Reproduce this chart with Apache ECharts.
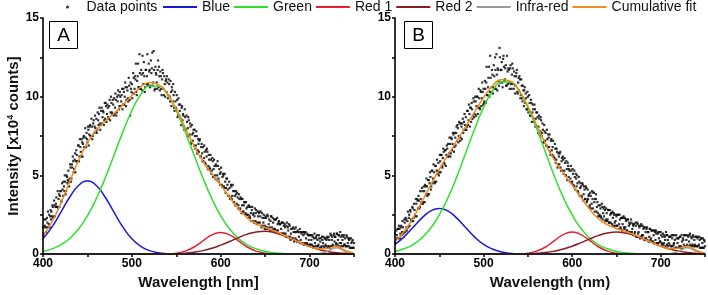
<!DOCTYPE html>
<html><head><meta charset="utf-8">
<script src="https://cdn.jsdelivr.net/npm/echarts@6/dist/echarts.min.js"></script>
<style>html,body{margin:0;padding:0;background:#fff}#c{width:708px;height:295px}</style>
</head><body><div id="c"></div>
<script>
// Wavelength grid for fitted components (nm)
const WL = [400,410,420,430,440,450,460,470,480,490,500,510,520,530,540,550,560,570,580,590,600,610,620,630,640,650,660,670,680,690,700,710,720,730,740,750];
// Measured data points: two interleaved read-outs, one value per nm each
const DATA_START = 400, DATA_START_2 = 400.5, DATA_STEP = 1;
const dataA = [
1.7,1.3,1.8,2.2,1.7,2.0,1.7,2.5,2.4,2.2,
2.4,3.0,2.4,3.1,3.0,3.6,3.0,2.9,3.8,3.7,
4.0,3.4,4.1,4.6,4.0,4.6,4.0,4.9,4.7,4.6,
4.8,5.5,4.8,5.5,5.9,5.4,6.4,5.9,6.3,5.9,
6.9,6.2,6.8,6.2,7.1,7.0,7.5,6.8,7.4,7.7,
7.1,7.9,7.6,8.2,7.5,8.1,7.5,8.5,8.1,8.0,
8.6,7.9,8.5,8.9,8.3,8.2,9.3,8.7,9.0,8.5,
8.6,9.4,8.9,9.3,8.6,9.8,9.0,9.6,8.9,9.5,
9.9,9.3,9.8,9.0,9.7,10.1,9.4,10.0,9.7,10.5,
9.5,10.3,10.0,10.6,9.8,10.4,9.7,10.7,8.8,10.5,
10.8,10.2,11.2,10.5,11.1,10.3,11.0,12.1,10.6,11.5,
10.5,11.4,12.6,10.8,11.3,10.6,11.7,11.3,10.8,12.1,
11.7,10.7,11.5,12.8,10.9,11.7,10.5,11.5,10.9,11.7,
10.6,11.3,11.6,10.5,11.1,11.5,10.1,10.8,11.0,10.3,
10.9,10.1,10.8,9.7,10.3,10.6,9.7,10.1,9.1,9.7,
9.2,9.8,8.8,9.5,9.1,8.6,9.3,8.5,8.8,7.9,
8.7,7.9,8.4,8.0,8.5,7.6,8.1,7.1,7.6,7.7,
6.9,7.5,6.9,7.5,6.6,7.0,7.2,6.2,6.8,6.4,
6.8,6.1,6.5,5.7,6.2,6.5,5.6,6.0,5.4,6.0,
5.3,5.9,5.4,5.6,4.8,5.6,5.0,5.6,4.6,5.1,
5.2,4.4,4.9,5.0,4.2,4.6,4.2,4.8,4.1,3.7,
4.2,3.6,4.3,3.7,4.0,3.3,3.7,4.0,3.2,3.6,
3.1,3.5,2.9,3.5,3.1,2.7,3.1,3.3,2.6,2.9,
3.0,2.5,3.0,2.3,2.6,2.8,2.1,2.6,2.4,2.1,
2.8,2.0,2.4,2.6,2.0,2.7,1.7,2.3,2.0,2.3,
1.8,2.3,1.7,2.4,1.9,1.7,2.1,2.4,1.5,2.0,
2.2,1.6,2.2,1.5,1.9,2.0,1.3,1.9,1.6,2.0,
1.3,1.8,1.9,1.3,1.8,1.1,1.5,1.9,1.1,1.3,
1.6,1.0,1.4,1.6,1.0,1.4,0.8,1.4,1.1,1.6,
0.9,1.3,0.7,1.2,1.4,0.7,1.0,0.7,1.2,0.9,
1.2,0.6,0.9,1.2,0.5,1.0,0.7,1.1,0.5,0.9,
0.6,1.0,0.8,0.4,1.1,0.7,0.5,1.0,0.6,0.9,
1.0,0.5,0.9,0.4,1.2,0.9,0.6,1.2,0.8,1.1,
0.7,1.3,0.9,1.2,0.7,1.1,0.5,0.9,1.1,0.6,
1.0,0.5,1.1,0.7,0.5,1.0,0.4,0.7,0.8,0.4,0.7];
const dataA2 = [
1.2,2.2,1.7,1.4,2.3,2.7,1.9,1.7,2.8,2.7,
3.1,2.3,3.4,2.4,3.2,3.0,4.0,3.5,3.0,4.0,
3.3,4.5,3.7,4.3,5.0,3.8,5.0,4.5,5.3,4.3,
5.7,4.6,5.7,6.2,5.2,6.0,5.2,6.6,5.9,6.9,
5.9,7.3,6.5,7.3,6.2,7.4,6.8,8.0,6.8,7.3,
8.1,6.9,8.1,7.5,8.6,7.3,8.3,7.7,8.8,7.8,
7.7,9.0,8.2,9.3,7.9,9.1,8.3,9.1,8.2,9.6,
9.6,8.4,9.5,8.7,9.4,8.5,10.0,9.0,9.8,8.8,
8.9,10.2,8.8,10.0,10.4,9.2,10.3,9.4,10.1,9.2,
10.5,9.5,10.9,9.4,10.6,9.9,11.2,9.8,10.9,10.3,
9.9,11.5,10.2,11.3,12.1,10.1,11.3,10.6,12.7,10.5,
11.7,10.4,11.5,12.2,10.3,11.7,10.8,12.7,10.7,11.6,
10.6,12.3,11.8,10.7,12.9,10.4,11.9,11.4,10.5,12.3,
11.9,10.4,11.3,10.1,11.7,10.5,11.3,10.0,11.1,11.3,
9.9,11.1,10.0,11.0,9.4,10.4,10.8,9.3,10.3,9.3,
10.1,8.7,9.9,8.8,9.5,8.2,9.4,8.9,8.1,9.2,
7.9,8.8,7.5,8.7,7.5,8.3,7.0,8.2,7.2,7.9,
7.9,6.7,7.8,6.4,7.3,6.5,7.3,6.2,7.0,5.9,
5.9,6.9,5.8,6.6,6.7,5.4,6.3,5.5,6.3,5.1,
6.1,4.9,6.0,5.0,5.7,4.7,5.9,4.8,5.4,4.4,
5.5,4.3,5.1,4.3,5.1,3.9,4.8,4.4,3.7,4.6,
3.5,4.4,3.5,4.4,3.3,4.0,3.1,3.8,3.9,2.9,
3.8,2.8,3.6,2.6,3.5,2.7,3.3,2.5,3.3,2.5,
2.3,3.1,2.4,3.0,2.1,3.0,2.5,2.0,2.9,2.6,
1.9,2.7,2.0,2.7,2.4,1.8,2.6,1.8,2.5,1.6,
2.4,1.6,2.5,1.6,2.2,1.5,2.4,1.7,2.3,1.6,
1.5,2.2,1.4,2.3,1.5,2.1,1.9,1.3,2.0,1.3,
2.0,1.3,1.7,1.1,2.0,1.7,1.1,1.8,0.9,1.6,
1.0,1.7,0.8,1.4,1.7,0.9,1.5,0.8,1.4,0.7,
1.4,0.7,1.4,0.6,1.3,1.4,0.6,1.3,0.6,1.2,
0.6,1.2,0.6,1.1,0.4,1.3,0.5,1.0,1.2,0.5,
1.2,0.4,1.0,0.5,0.9,1.1,0.4,1.0,0.5,1.1,
0.4,1.1,0.5,1.3,0.5,1.1,0.5,1.3,1.1,0.6,
1.3,0.6,1.2,0.5,1.4,0.7,1.2,0.5,1.2,0.6,
0.5,1.2,0.5,1.0,0.9,0.4,1.0,0.4,0.9,0.4];
const dataB = [
1.3,0.9,1.2,1.6,1.0,1.6,1.3,1.8,1.4,1.7,
1.4,2.0,2.3,1.7,2.1,1.7,2.5,2.8,2.2,2.1,
2.9,2.3,2.8,2.4,3.2,3.5,2.9,3.4,3.0,3.5,
3.3,4.0,3.3,4.0,4.4,3.8,4.3,3.8,4.7,4.5,
4.9,4.3,5.3,4.8,5.2,4.5,5.6,5.3,5.1,5.8,
5.2,5.9,6.3,5.6,6.1,6.5,5.7,6.6,6.3,6.7,
7.0,6.4,7.0,6.4,7.3,7.0,7.6,6.8,7.4,7.7,
7.2,8.0,7.5,8.3,7.4,8.1,8.3,7.7,8.4,8.2,
8.7,8.1,9.1,8.5,8.9,9.3,8.4,9.2,8.8,9.7,
8.9,9.7,9.4,10.0,9.3,9.9,9.2,10.3,9.9,10.3,
10.5,9.7,10.5,10.9,10.1,10.6,11.9,10.3,11.2,10.6,
11.4,10.6,11.3,12.5,10.5,11.4,11.8,11.0,13.1,10.9,
11.7,10.9,12.4,11.9,11.1,12.0,10.7,11.6,11.8,10.9,
11.8,10.8,11.4,11.8,10.5,11.3,10.7,11.5,10.3,10.9,
10.4,11.1,10.1,10.7,9.7,10.4,10.4,9.6,9.9,9.2,
10.0,9.2,9.6,8.8,9.6,9.0,9.2,8.4,9.2,8.6,
8.1,8.7,8.1,8.6,7.8,8.5,7.7,7.9,7.1,7.8,
7.7,6.9,7.3,7.6,6.8,6.5,7.2,6.6,6.8,6.2,
6.1,6.7,6.0,6.5,5.7,6.2,6.4,5.5,5.9,5.3,
6.0,5.3,5.8,5.0,5.4,5.8,4.9,5.3,4.8,5.3,
4.6,5.1,4.3,4.9,5.1,4.3,4.5,3.9,4.6,4.2,
4.3,3.6,4.4,3.8,4.1,3.5,4.2,3.4,3.5,3.8,
3.1,3.7,3.2,3.5,3.9,3.3,3.5,3.8,3.0,2.6,
3.1,2.5,2.9,2.3,3.0,2.6,2.4,2.8,2.2,2.6,
2.2,2.8,2.0,2.5,2.6,1.9,2.3,2.6,2.0,2.1,
2.4,1.8,2.5,1.9,2.2,1.6,2.3,1.9,2.4,1.6,
1.7,2.1,1.5,2.2,1.8,1.9,1.3,2.0,1.6,1.8,
1.9,1.4,1.8,1.1,1.9,1.4,1.7,1.1,1.9,1.2,
1.2,1.7,1.0,1.4,1.6,0.9,1.4,1.1,1.6,1.0,
1.5,0.8,1.2,1.5,0.9,1.3,0.7,1.3,1.0,0.8,
1.4,0.7,1.1,0.6,1.2,0.9,1.4,0.6,0.9,0.7,
0.6,1.1,0.5,1.0,1.2,0.7,0.9,0.4,1.0,0.7,
1.0,0.5,1.1,0.4,0.8,1.0,0.6,1.2,0.5,0.9,
0.6,1.1,0.8,1.3,0.5,1.0,0.6,1.1,0.9,0.5,
1.1,0.5,1.1,0.6,0.9,0.4,1.0,0.7,0.4,0.9,0.5];
const dataB2 = [
0.7,1.5,1.0,1.6,1.8,1.0,1.7,1.2,2.1,1.3,
2.2,1.4,2.2,1.5,2.7,2.3,1.8,2.7,2.1,3.0,
2.1,3.2,2.5,3.5,2.4,3.4,3.7,2.9,4.0,3.2,
4.2,3.2,4.3,3.3,4.3,4.8,3.7,4.7,3.8,5.2,
4.1,5.3,4.5,5.7,4.6,5.6,4.6,6.0,5.3,5.0,
6.3,5.2,6.3,5.5,6.7,5.8,6.6,5.6,6.9,6.2,
6.2,7.4,6.2,7.4,6.6,7.7,6.5,7.7,6.9,8.1,
8.2,7.1,8.4,7.2,8.3,7.3,8.6,7.9,8.9,7.9,
7.9,9.1,8.2,9.5,8.1,9.3,9.6,8.6,9.9,8.7,
10.0,8.8,10.0,8.9,10.5,9.3,10.4,9.4,10.9,9.5,
9.6,11.0,9.6,11.9,10.1,11.2,10.0,12.6,10.3,11.7,
10.2,12.0,10.5,11.7,12.7,10.4,11.7,10.7,12.5,11.7,
12.2,10.6,12.6,11.0,11.8,10.7,12.6,10.8,11.7,10.5,
12.0,10.5,12.1,10.8,11.6,10.2,11.3,11.7,10.2,11.2,
11.3,9.9,11.1,9.9,10.7,9.4,10.6,10.2,9.2,10.3,
9.0,10.1,8.8,9.8,8.4,9.5,8.6,9.5,8.1,9.0,
9.0,7.7,8.8,7.6,8.7,7.5,8.3,7.1,8.2,7.2,
6.9,7.9,6.8,7.4,7.6,6.3,7.3,6.3,7.2,6.1,
7.0,5.8,6.7,5.5,6.4,5.7,6.5,5.3,6.1,6.2,
5.1,6.1,5.0,5.9,4.7,5.6,5.4,4.6,5.6,4.5,
5.4,4.4,5.3,4.1,4.8,5.0,4.0,4.9,3.7,4.5,
3.7,4.5,3.4,4.3,3.5,4.3,3.3,4.1,3.7,3.0,
3.9,2.9,4.0,2.9,3.9,2.7,3.5,2.7,3.3,2.4,
2.4,3.1,2.4,3.2,2.2,2.9,3.0,2.1,2.9,2.1,
2.8,2.0,2.8,2.0,2.6,2.7,1.8,2.5,1.8,2.5,
1.8,2.5,1.6,2.5,1.7,2.3,1.5,2.3,1.7,2.3,
2.2,1.5,2.2,1.4,2.0,1.4,2.2,1.4,1.9,1.2,
1.3,2.0,1.1,2.0,1.3,1.8,1.0,1.8,1.1,1.8,
1.6,0.9,1.7,1.0,1.7,1.4,0.8,1.6,0.9,1.5,
0.8,1.5,0.7,1.4,1.5,0.7,1.4,0.7,1.4,0.8,
1.2,0.6,1.3,0.7,1.1,0.5,1.2,1.2,0.5,1.1,
1.1,0.5,1.2,0.5,0.6,1.2,0.4,1.2,0.4,1.0,
0.4,1.1,0.5,1.2,0.4,0.9,1.2,0.5,1.2,0.5,
1.2,0.5,1.2,0.6,1.1,0.5,1.2,0.5,0.6,1.1,
0.5,1.0,0.5,1.1,0.4,1.0,0.4,1.0,0.4,0.8];

// Fitted components, panel A (values at WL)
const blueA  = [0.97,1.71,2.65,3.61,4.36,4.64,4.36,3.61,2.65,1.71,0.97,0.49,0.22,0.085,0.03,0.01,0,0,0,0,0,0,0,0,0,0,0,0,0,0,0,0,0,0,0,0];
const greenA = [0.17,0.33,0.58,0.99,1.59,2.43,3.52,4.83,6.30,7.78,9.11,10.13,10.68,10.68,10.13,9.11,7.78,6.30,4.83,3.52,2.43,1.59,0.99,0.58,0.33,0.17,0.09,0.04,0.02,0.01,0,0,0,0,0,0];
const red1A  = [0,0,0,0,0,0,0,0,0,0,0,0,0,0,0.015,0.06,0.19,0.45,0.84,1.22,1.38,1.22,0.84,0.45,0.19,0.06,0.015,0,0,0,0,0,0,0,0,0];
const red2A  = [0,0,0,0,0,0,0,0,0,0,0,0,0,0,0.01,0.03,0.06,0.12,0.22,0.37,0.57,0.80,1.05,1.27,1.41,1.45,1.37,1.19,0.95,0.71,0.48,0.30,0.17,0.09,0.05,0.02];
const irA    = [0,0,0,0,0,0,0,0,0,0,0,0,0,0,0,0,0,0,0,0,0,0,0,0,0,0,0,0,0,0,0,0.02,0.18,0.40,0.18,0.02];
const fitA   = [1.14,2.04,3.23,4.60,5.95,7.07,7.88,8.44,8.95,9.49,10.08,10.62,10.90,10.77,10.19,9.21,8.03,6.87,5.89,5.11,4.38,3.61,2.88,2.30,1.93,1.68,1.48,1.23,0.97,0.72,0.48,0.32,0.35,0.49,0.23,0.04];
// Fitted components, panel B
const blueB  = [0.62,1.08,1.67,2.27,2.73,2.90,2.73,2.27,1.67,1.08,0.62,0.32,0.14,0.06,0.02,0.01,0,0,0,0,0,0,0,0,0,0,0,0,0,0,0,0,0,0,0,0];
const greenB = [0.17,0.34,0.59,1.01,1.63,2.49,3.60,4.94,6.45,7.96,9.32,10.36,10.93,10.93,10.36,9.32,7.96,6.45,4.94,3.60,2.49,1.63,1.01,0.59,0.34,0.17,0.09,0.04,0.02,0.01,0,0,0,0,0,0];
const red1B  = [0,0,0,0,0,0,0,0,0,0,0,0,0,0,0.015,0.06,0.19,0.45,0.85,1.24,1.40,1.24,0.85,0.45,0.19,0.06,0.015,0,0,0,0,0,0,0,0,0];
const red2B  = [0,0,0,0,0,0,0,0,0,0,0,0,0,0,0.01,0.02,0.05,0.10,0.19,0.32,0.50,0.73,0.97,1.19,1.34,1.40,1.34,1.19,0.97,0.73,0.50,0.32,0.19,0.10,0.05,0.02];
const irB    = [0,0,0,0,0,0,0,0,0,0,0,0,0,0,0,0,0,0,0,0,0,0,0,0,0,0,0,0,0,0,0,0.02,0.18,0.40,0.18,0.02];
const fitB   = [0.79,1.42,2.26,3.28,4.36,5.39,6.33,7.21,8.12,9.04,9.94,10.68,11.07,10.99,10.41,9.41,8.20,7.00,5.98,5.16,4.39,3.60,2.83,2.23,1.87,1.63,1.45,1.23,0.99,0.74,0.50,0.34,0.37,0.50,0.23,0.04];

const X_TICKS = [400,500,600,700];
const Y_TICKS = [0,5,10,15];
const NAMES = ['Data points','Blue','Green','Red 1','Red 2','Infra-red','Cumulative fit'];
const COLORS = ['#000000','#1a1ad8','#2ee02e','#e8202c','#8a1a24','#9a9a9a','#f28a20'];

const FONT = 'Liberation Sans, Arial, sans-serif';
const chart = echarts.init(document.getElementById('c'), null, {renderer:'canvas'});

function xAxis(gi, name){
  return {type:'value', gridIndex:gi, min:400, max:750, interval:50, z:10,
    name:name, nameLocation:'middle', nameGap:20,
    nameTextStyle:{fontFamily:FONT, fontSize:15, fontWeight:'bold', color:'#111'},
    axisLine:{lineStyle:{color:'#000', width:1.6}},
    axisTick:{length:3, lineStyle:{color:'#000', width:1.5}},
    axisLabel:{margin:4, fontFamily:FONT, fontSize:12, fontWeight:'bold', color:'#000',
      formatter:v=>X_TICKS.includes(v)?String(v):''},
    splitLine:{show:false}};
}
function yAxis(gi, withName){
  return {type:'value', gridIndex:gi, min:0, max:15, interval:2.5, z:10,
    name: withName ? '{a|Intensity [x10}{s|4}{a| counts]}' : '',
    nameLocation:'middle', nameGap:20,
    nameTextStyle:{rich:{a:{fontFamily:FONT, fontSize:15, fontWeight:'bold', color:'#111'},
                         s:{fontFamily:FONT, fontSize:9, fontWeight:'bold', color:'#111', verticalAlign:'top', padding:[0,0,7,0]}}},
    axisLine:{show:true, lineStyle:{color:'#000', width:1.6}},
    axisTick:{show:true, length:3, lineStyle:{color:'#000', width:1.5}},
    axisLabel:{margin:4, fontFamily:FONT, fontSize:12, fontWeight:'bold', color:'#000',
      formatter:v=>Y_TICKS.includes(v)?String(v):''},
    splitLine:{show:false}};
}
function panelSeries(gi, pts, pts2, comps){
  const scatterData = pts.map((v,i)=>[DATA_START + i*DATA_STEP, v])
    .concat(pts2.map((v,i)=>[DATA_START_2 + i*DATA_STEP, v]));
  const s = [{name:NAMES[0], type:'scatter', xAxisIndex:gi, yAxisIndex:gi,
    symbol:'rect', symbolSize:2.2, itemStyle:{color:'#000'}, silent:true, z:2,
    large:false, data: scatterData}];
  comps.forEach((arr,k)=>{
    s.push({name:NAMES[k+1], type:'line', xAxisIndex:gi, yAxisIndex:gi, symbol:'none', smooth:true,
      lineStyle:{color:COLORS[k+1], width:1.5}, itemStyle:{color:COLORS[k+1]}, z:3+k, silent:true,
      data: WL.map((w,i)=>[w, arr[i]])});
  });
  return s;
}

chart.setOption({
  animation:false,
  textStyle:{fontFamily:FONT},
  grid:[{left:43, top:18, width:311, height:240},{left:395, top:18, width:311, height:240}],
  xAxis:[xAxis(0,'Wavelength [nm]'), xAxis(1,'Wavelength (nm)')],
  yAxis:[yAxis(0,true), yAxis(1,false)],
  legend:[
    {data:[{name:'Data points', icon:'circle'}], left:66, top:0, padding:0, itemWidth:28, itemHeight:3,
     textStyle:{fontFamily:FONT, fontSize:14, color:'#111'}, selectedMode:false},
    {data:NAMES.slice(1).map(n=>({name:n, icon:'rect'})), left:163, top:0, padding:0, width:545,
     itemWidth:34, itemHeight:2, itemGap:4,
     textStyle:{fontFamily:FONT, fontSize:14, color:'#111'}, selectedMode:false}
  ],
  graphic:[
    {type:'rect', shape:{x:49.5, y:21.5, width:28, height:27}, style:{fill:'#fff', stroke:'#000', lineWidth:1}, z:20},
    {type:'text', x:63.5, y:35.5, style:{text:'A', fontFamily:FONT, fontSize:19, fill:'#000', align:'center', verticalAlign:'middle'}, z:21},
    {type:'rect', shape:{x:404.5, y:21.5, width:28, height:27}, style:{fill:'#fff', stroke:'#000', lineWidth:1}, z:20},
    {type:'text', x:418.5, y:35.5, style:{text:'B', fontFamily:FONT, fontSize:19, fill:'#000', align:'center', verticalAlign:'middle'}, z:21}
  ],
  series:[...panelSeries(0, dataA, dataA2, [blueA,greenA,red1A,red2A,irA,fitA]),
          ...panelSeries(1, dataB, dataB2, [blueB,greenB,red1B,red2B,irB,fitB])]
});
</script></body></html>
